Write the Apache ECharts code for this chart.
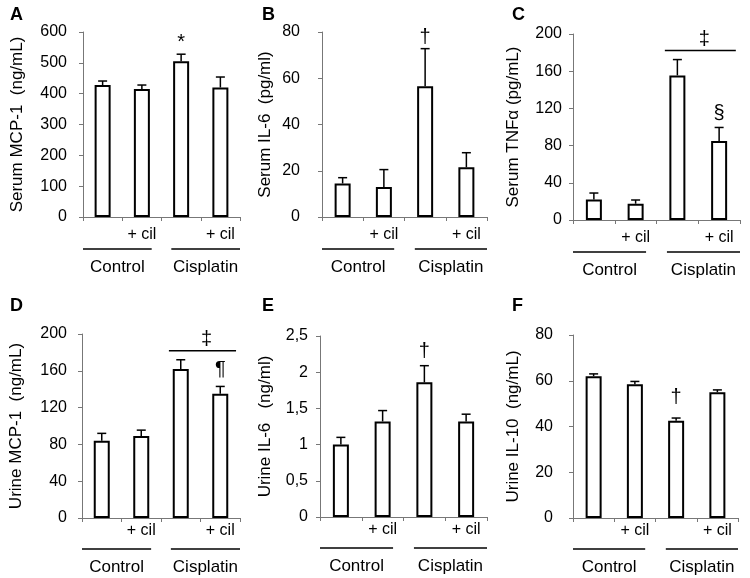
<!DOCTYPE html>
<html><head><meta charset="utf-8">
<script src="https://cdn.jsdelivr.net/npm/echarts@6/dist/echarts.min.js"></script>
<style>html,body{margin:0;padding:0;background:#fff}#c{width:750px;height:578px}</style>
</head><body><div id="c"></div>
<script>
// ---- data ----
const categories = ['', '+ cil', '', '+ cil'];
const groups = ['Control', 'Cisplatin'];
const panelLetters = ['A', 'B', 'C', 'D', 'E', 'F'];
const yNames = ['Serum MCP-1  (ng/mL)', 'Serum IL-6  (pg/ml)', 'Serum TNF\u03b1 (pg/mL)', 'Urine MCP-1  (ng/mL)', 'Urine IL-6   (ng/ml)', 'Urine IL-10  (ng/mL)'];
const yMax = [600, 80, 200, 200, 2.5, 80];
const yInterval = [100, 20, 40, 40, 0.5, 20];
const serumMCP1 = [428, 415, 505, 420];
const serumMCP1Err = [13, 13, 23, 34];
const serumIL6 = [14.5, 13, 56.5, 21.5];
const serumIL6Err = [2.5, 7.5, 16.3, 6.3];
const serumTNFa = [22, 17.5, 155.5, 85];
const serumTNFaErr = [7, 4, 17, 14.5];
const urineMCP1 = [84, 89, 162, 135];
const urineMCP1Err = [8, 6.5, 10, 8];
const urineIL6 = [1.0, 1.32, 1.86, 1.32];
const urineIL6Err = [0.1, 0.15, 0.23, 0.1];
const urineIL10 = [62, 58.5, 42.5, 55];
const urineIL10Err = [1, 1.2, 1.2, 1];
const sigMarks = [
  ['', '', '*', ''],
  ['', '', '\u2020', ''],
  ['', '', '', '\u00a7'],
  ['', '', '', '\u00b6'],
  ['', '', '\u2020', ''],
  ['', '', '\u2020', '']
];
const bracketMarks = ['', '', '\u2021', '\u2021', '', ''];

const means = [serumMCP1, serumIL6, serumTNFa, urineMCP1, urineIL6, urineIL10];
const errs = [serumMCP1Err, serumIL6Err, serumTNFaErr, urineMCP1Err, urineIL6Err, urineIL10Err];

// ---- layout / style ----
const FONT = 'Liberation Sans, Arial, sans-serif';
const grids = [
  {left: 83, top: 32, width: 157, height: 185},
  {left: 322, top: 32, width: 165, height: 185},
  {left: 573, top: 34, width: 167, height: 186},
  {left: 82, top: 334, width: 158, height: 184},
  {left: 320, top: 336, width: 167, height: 181},
  {left: 573, top: 335, width: 165, height: 183}
];
const letterPos = [[5, 1], [257, 1], [507, 1], [5, 292], [257, 292], [507, 292]];
const nameGaps = [57, 48, 51, 57, 46, 51];
const yLabelMargins = [16, 22, 11, 15, 12, 20];
const xLabelMargins = [10, 10, 10, 5, 5, 5];
const groupLineOffset = [32, 32, 32, 31, 31, 31];
const groupTextOffset = [50, 50, 50, 49, 49, 49];
const markGap = [2, 1, 4, 7, 4, 11];
const AXIS_COLOR = '#777';

const chart = echarts.init(document.getElementById('c'), null, {renderer: 'canvas'});

const option = {
  animation: false,
  backgroundColor: '#fff',
  title: panelLetters.map((t, i) => ({
    text: t, left: letterPos[i][0], top: letterPos[i][1],
    textStyle: {fontFamily: FONT, fontSize: 18, fontWeight: 'bold', color: '#000'}
  })),
  grid: grids.map(g => Object.assign({containLabel: false}, g)),
  xAxis: grids.map((g, i) => ({
    type: 'category', gridIndex: i, data: categories,
    axisLine: {show: true, lineStyle: {color: AXIS_COLOR, width: 1}},
    axisTick: {show: true, length: 4, interval: 0, alignWithLabel: false, lineStyle: {color: AXIS_COLOR}},
    axisLabel: {interval: 0, margin: xLabelMargins[i], fontFamily: FONT, fontSize: 16, color: '#000'},
    splitLine: {show: false}
  })),
  yAxis: grids.map((g, i) => ({
    type: 'value', gridIndex: i, min: 0, max: yMax[i], interval: yInterval[i],
    name: yNames[i], nameLocation: 'middle', nameGap: nameGaps[i],
    nameTextStyle: {fontFamily: FONT, fontSize: 17, color: '#000'},
    axisLine: {show: true, lineStyle: {color: AXIS_COLOR, width: 1}},
    axisTick: {show: true, length: 4, inside: false, lineStyle: {color: AXIS_COLOR}},
    axisLabel: {margin: yLabelMargins[i], fontFamily: FONT, fontSize: 16, color: '#000',
      formatter: v => String(v).replace('.', ',')},
    splitLine: {show: false}
  })),
  series: []
};

for (let p = 0; p < 6; p++) {
  option.series.push({
    type: 'bar', xAxisIndex: p, yAxisIndex: p, data: means[p], barWidth: 16,
    itemStyle: {color: '#fff', borderColor: '#000', borderWidth: 2},
    z: 2
  });
  // error bars + significance marks
  option.series.push({
    type: 'custom', xAxisIndex: p, yAxisIndex: p, z: 5, clip: false,
    data: means[p].map((m, i) => [i, m, errs[p][i]]),
    encode: {x: 0, y: 1},
    renderItem: (function (pi) {
      return function (params, api) {
        const i = api.value(0), m = api.value(1), s = api.value(2);
        const base = api.coord([i, m]);
        const top = api.coord([i, m + s]);
        const children = [
          {type: 'line', shape: {x1: base[0], y1: base[1], x2: top[0], y2: top[1]}, style: {stroke: '#000', lineWidth: 1.5}},
          {type: 'line', shape: {x1: top[0] - 4.5, y1: top[1], x2: top[0] + 4.5, y2: top[1]}, style: {stroke: '#000', lineWidth: 1.5}}
        ];
        const mk = sigMarks[pi][params.dataIndex];
        if (mk) {
          children.push({type: 'text', x: top[0], y: top[1] - markGap[pi],
            style: {text: mk, fill: '#000', font: '20px ' + FONT, align: 'center', verticalAlign: 'bottom'}});
        }
        return {type: 'group', children: children};
      };
    })(p)
  });
  // group lines and labels under the axis, plus bracket above the cisplatin group
  option.series.push({
    type: 'custom', xAxisIndex: p, yAxisIndex: p, z: 5, clip: false,
    data: groups.map((g, gi) => [gi * 2, 0]),
    encode: {x: 0, y: 1},
    renderItem: (function (pi) {
      return function (params, api) {
        const gi = params.dataIndex;
        const c0 = api.coord([gi * 2, 0]);
        const c1 = api.coord([gi * 2 + 1, 0]);
        const w = api.size([1, 0])[0];
        const x0 = gi === 0 ? c0[0] - w / 2 : c0[0] - w * 0.25;
        const x1 = gi === 0 ? c1[0] + w * 0.25 : c1[0] + w / 2;
        const yl = c0[1] + groupLineOffset[pi];
        const children = [
          {type: 'line', shape: {x1: x0, y1: yl, x2: x1, y2: yl}, style: {stroke: '#000', lineWidth: 1.5}},
          {type: 'text', x: (x0 + x1) / 2, y: c0[1] + groupTextOffset[pi],
            style: {text: groups[gi], fill: '#000', font: '17px ' + FONT, align: 'center', verticalAlign: 'middle'}}
        ];
        if (gi === 1 && bracketMarks[pi]) {
          const e2 = means[pi][2] + errs[pi][2], e3 = means[pi][3] + errs[pi][3];
          const yb = api.coord([0, Math.max(e2, e3)])[1] - 9;
          const bx0 = c0[0] - w * 0.3, bx1 = c1[0] + w * 0.4;
          children.push({type: 'line', shape: {x1: bx0, y1: yb, x2: bx1, y2: yb}, style: {stroke: '#000', lineWidth: 1.5}});
          children.push({type: 'text', x: (bx0 + bx1) / 2 + 4, y: yb - 1,
            style: {text: bracketMarks[pi], fill: '#000', font: '20px ' + FONT, align: 'center', verticalAlign: 'bottom'}});
        }
        return {type: 'group', children: children};
      };
    })(p)
  });
}

chart.setOption(option);
</script></body></html>
